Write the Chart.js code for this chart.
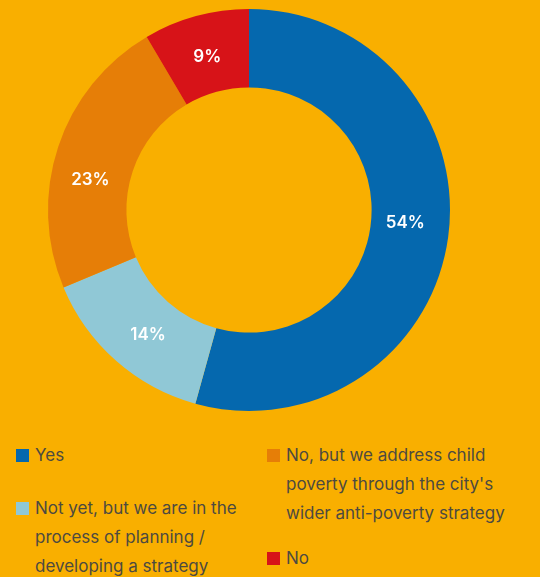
<!DOCTYPE html>
<html>
<head>
<meta charset="utf-8">
<script src="https://cdn.jsdelivr.net/npm/chart.js@4"></script>
<style>
  html, body { margin: 0; padding: 0; background: #F9AF00; }
  body { width: 540px; height: 577px; position: relative; overflow: hidden; font-family: Inter, "Open Sans", sans-serif; }
  #wrap { position: absolute; left: 0; top: 0; width: 540px; height: 420px; }
  .leg { position: absolute; color: #4d4a40; font-size: 17px; line-height: 29px; }
  .leg .sw { position: absolute; left: -19px; top: 8px; width: 13px; height: 13px; }
</style>
</head>
<body>
<div id="wrap"><canvas id="grafico"></canvas></div>
<div id="legenda"></div>
<script>
const categorias = [
  'Yes',
  'Not yet, but we are in the<br>process of planning /<br>developing a strategy',
  'No, but we address child<br>poverty through the city\'s<br>wider anti-poverty strategy',
  'No'
];
// slice sizes as measured from the ring; labels show the rounded percentages
const valores = [54.3, 14.4, 22.8, 8.5];
const rotulosTexto = ['54%', '14%', '23%', '9%'];
const cores = ['#0568AE', '#90C8D6', '#E67E07', '#D71318'];

// small nudges of the labels from the arc centre, like in the original
const ajusteRotulo = [[-4, -9], [6, 4], [-5, 21], [1, 3]];

// legend positions (two columns)
const legPos = [[35, 441], [35, 494], [286, 441], [286, 544]];
const leg = document.getElementById('legenda');
categorias.forEach((c, i) => {
  const d = document.createElement('div');
  d.className = 'leg';
  d.style.left = legPos[i][0] + 'px';
  d.style.top = legPos[i][1] + 'px';
  d.innerHTML = '<span class="sw" style="background:' + cores[i] + '"></span>' + c;
  leg.appendChild(d);
});

const rotulos = {
  id: 'rotulos',
  afterDatasetsDraw(chart) {
    const ctx = chart.ctx;
    const meta = chart.getDatasetMeta(0);
    ctx.save();
    ctx.fillStyle = '#ffffff';
    ctx.font = '600 17px Inter, sans-serif';
    ctx.textAlign = 'center';
    ctx.textBaseline = 'middle';
    meta.data.forEach((arc, i) => {
      const p = arc.tooltipPosition();
      ctx.fillText(rotulosTexto[i], p.x + ajusteRotulo[i][0], p.y + ajusteRotulo[i][1]);
    });
    ctx.restore();
  }
};

new Chart(document.getElementById('grafico'), {
  type: 'doughnut',
  data: {
    labels: categorias.map(c => c.replace(/<br>/g, ' ')),
    datasets: [{
      data: valores,
      backgroundColor: cores,
      borderWidth: 0
    }]
  },
  options: {
    responsive: true,
    maintainAspectRatio: false,
    animation: false,
    cutout: '61%',
    layout: { padding: { top: 9, bottom: 9, left: 48, right: 90 } },
    plugins: { legend: { display: false }, tooltip: { enabled: false } }
  },
  plugins: [rotulos]
});
</script>
</body>
</html>
